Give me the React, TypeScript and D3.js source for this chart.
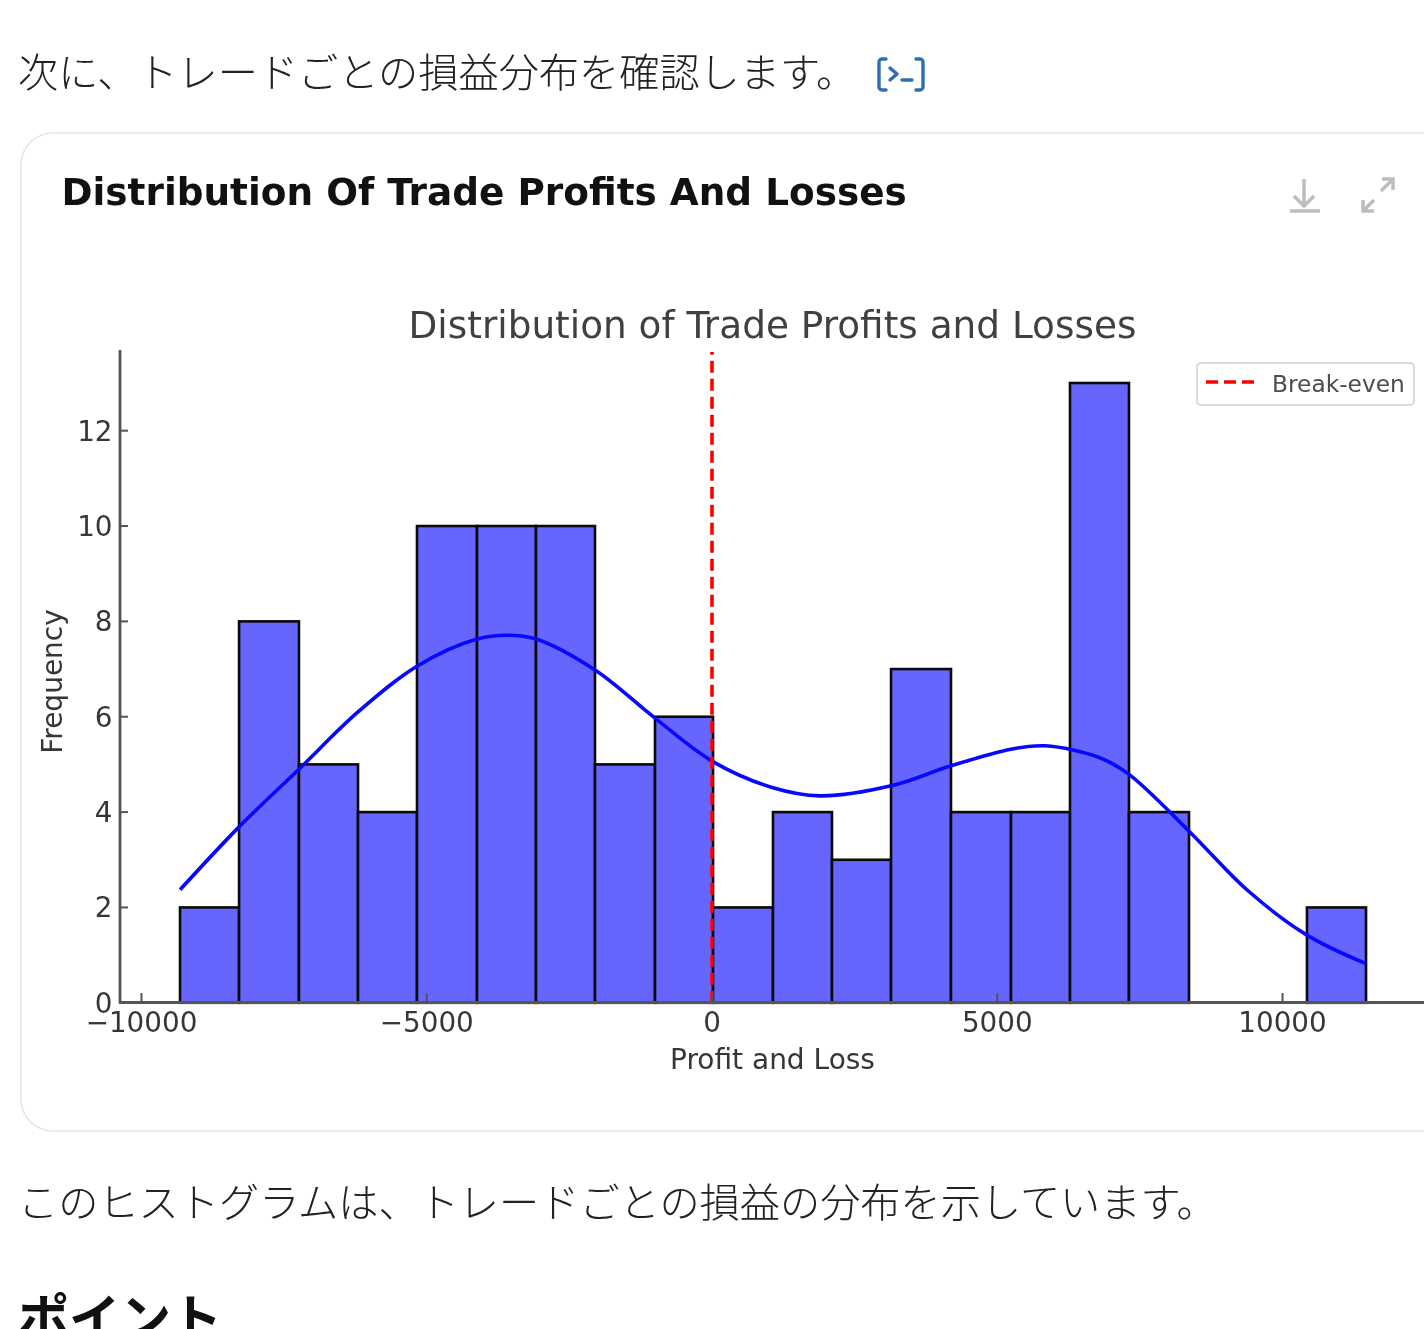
import React from 'react';
import * as d3 from 'd3';

const binEdges = [-9325,-8290,-7240,-6205,-5171,-4119,-3085,-2051,-999,18,1069,2103,3138,4189,5241,6275,7309,8361,9395,10429,11464];
const binCounts = [2,8,5,4,10,10,10,5,6,2,4,3,7,4,4,13,4,0,0,2];
const kdeX = [-9325,-8290,-7240,-6205,-5171,-4119,-3576,-3085,-2051,-999,0,1069,1893,3138,4189,5241,5836,6800,7309,8361,9395,10429,11464];
const kdeY = [2.37,3.69,4.9,6.1,7.06,7.63,7.71,7.63,6.98,5.97,5.07,4.51,4.34,4.55,4.97,5.32,5.39,5.14,4.79,3.6,2.35,1.42,0.82];
const xTicks = [-10000,-5000,0,5000,10000];
const yTicks = [0,2,4,6,8,10,12];
const introText = '次に、トレードごとの損益分布を確認します。';
const cardTitle = 'Distribution Of Trade Profits And Losses';
const chartTitle = 'Distribution of Trade Profits and Losses';
const xLabel = 'Profit and Loss';
const yLabel = 'Frequency';
const legendLabel = 'Break-even';
const bodyText = 'このヒストグラムは、トレードごとの損益の分布を示しています。';
const headingText = 'ポイント';

const x = d3.scaleLinear().domain([-10000, 10000]).range([141.5, 1282.5]);
const y = d3.scaleLinear().domain([0, 13]).range([1002.8, 383]);
const curve = d3.line<number>().x((d) => x(d)).y((_, i) => y(kdeY[i])).curve(d3.curveCatmullRom.alpha(0.5));

const dejavu = '"DejaVu Sans", sans-serif';
const cjk = '"Noto Sans CJK JP", sans-serif';
const axisColor = '#555';
const textColor = '#363636';
const fmt = (v: number) => (v < 0 ? '\u2212' + Math.abs(v) : String(v));

export default function App() {
  return (
    <svg width={1424} height={1329} viewBox="0 0 1424 1329"
      style={{ position: 'absolute', left: 0, top: 0, display: 'block', filter: 'blur(0.75px)' }}>
      <rect width={1424} height={1329} fill="#fff" />
      <text x={18} y={87} fontFamily={cjk} fontSize={40.2} fontWeight={300} fill="#222">{introText}</text>
      <g fill="none" stroke="#2f6db5" strokeWidth={3.4} strokeLinecap="round" strokeLinejoin="round">
        <path d="M886 59 h-4 a3 3 0 0 0 -3 3 v25 a3 3 0 0 0 3 3 h4" />
        <path d="M916 59 h4 a3 3 0 0 1 3 3 v25 a3 3 0 0 1 -3 3 h-4" />
        <path d="M890 68 l7 6 l-7 6" />
        <path d="M902 80 h10" />
      </g>

      <rect x={21} y={133} width={1500} height={998} rx={32} fill="#fff" stroke="#e6e6e6" strokeWidth={1.5} />
      <text x={61.5} y={205} fontFamily={dejavu} fontWeight={700} fontSize={37.4} fill="#111">{cardTitle}</text>

      <g fill="none" stroke="#bdbdbd" strokeWidth={3.5}>
        <path d="M1304 179 v27 M1294 196 l10 10 l10 -10" />
        <path d="M1290 211 h30" />
        <path d="M1393 179 l-12 12 M1382 179 h11 v11" />
        <path d="M1363 211 l11 -11 M1363 200 v11 h11" />
      </g>

      <text x={772.5} y={338} textAnchor="middle" fontFamily={dejavu} fontSize={37.4} fill="#404040">{chartTitle}</text>

      {binCounts.map((c, i) => c > 0 && (
        <rect key={i} x={x(binEdges[i])} y={y(c)} width={x(binEdges[i + 1]) - x(binEdges[i])} height={y(0) - y(c)}
          fill="#6666ff" stroke="#0a0a0a" strokeWidth={2.6} />
      ))}

      <path d={curve(kdeX) ?? ''} fill="none" stroke="#0808ff" strokeWidth={3.6} />
      <line x1={x(0)} x2={x(0)} y1={y(0)} y2={352} stroke="#f00" strokeWidth={3.6} strokeDasharray="12 6" />

      <line x1={120} x2={120} y1={350} y2={1003} stroke={axisColor} strokeWidth={2.8} />
      <line x1={119} x2={1424} y1={1002.5} y2={1002.5} stroke={axisColor} strokeWidth={2.8} />
      {xTicks.map((t) => (
        <g key={t}>
          <line x1={x(t)} x2={x(t)} y1={1002} y2={993} stroke={axisColor} strokeWidth={2} />
          <text x={x(t)} y={1032} textAnchor="middle" fontFamily={dejavu} fontSize={27.8} fill={textColor}>{fmt(t)}</text>
        </g>
      ))}
      {yTicks.map((t) => (
        <g key={t}>
          <line x1={120} x2={128} y1={y(t)} y2={y(t)} stroke={axisColor} strokeWidth={2} />
          <text x={112.5} y={y(t) + (t === 0 ? 10.5 : 10)} textAnchor="end" fontFamily={dejavu} fontSize={27.8} fill={textColor}>{t}</text>
        </g>
      ))}
      <text x={772.5} y={1069} textAnchor="middle" fontFamily={dejavu} fontSize={28} fill={textColor}>{xLabel}</text>
      <text transform="translate(61.5,681.5) rotate(-90)" textAnchor="middle" fontFamily={dejavu} fontSize={28} fill={textColor}>{yLabel}</text>

      <rect x={1197} y={363} width={217} height={42} rx={4} fill="#fff" stroke="#d8d8d8" strokeWidth={2} />
      <line x1={1206} x2={1254} y1={382} y2={382} stroke="#f00" strokeWidth={3.6} strokeDasharray="12 6" />
      <text x={1272} y={392} fontFamily={dejavu} fontSize={23.3} fill="#4d4d4d">{legendLabel}</text>

      <text x={18} y={1217} fontFamily={cjk} fontSize={40.2} fontWeight={300} fill="#222">{bodyText}</text>
      <text x={18} y={1337} fontFamily={cjk} fontSize={51} fontWeight={700} fill="#111">{headingText}</text>
    </svg>
  );
}
